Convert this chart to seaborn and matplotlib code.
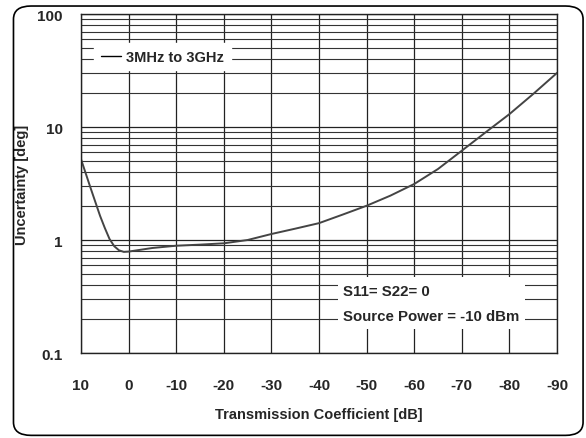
import numpy as np
import pandas as pd
import matplotlib
matplotlib.use("Agg")
import matplotlib.pyplot as plt
import seaborn as sns
from matplotlib.patches import FancyBboxPatch, Rectangle
from matplotlib.ticker import LogLocator, FixedLocator

# ==========================================
# DATA
# ==========================================

transmission_db = [10, 8, 6, 5, 4, 3, 2, 1, 0, -5, -10, -15, -20, -25, -30,
                   -35, -40, -45, -50, -55, -60, -65, -70, -75, -80, -85, -90]
uncertainty_deg = [5.2, 2.9, 1.64, 1.28, 1.02, 0.88, 0.81, 0.785, 0.79, 0.85,
                   0.89, 0.91, 0.935, 1.0, 1.13, 1.26, 1.41, 1.68, 2.01, 2.47,
                   3.13, 4.25, 6.17, 8.97, 13.0, 19.6, 30.1]

x_ticks = [10, 0, -10, -20, -30, -40, -50, -60, -70, -80, -90]
y_ticks = [0.1, 1, 10, 100]
y_tick_labels = ["0.1", "1", "10", "100"]

df = pd.DataFrame({"Transmission": transmission_db, "Uncertainty": uncertainty_deg})

# ==========================================
# STYLE
# ==========================================

sns.set_style("white")
plt.rcParams["font.family"] = ["Liberation Sans", "DejaVu Sans"]
plt.rcParams["font.weight"] = "bold"
plt.rcParams["axes.unicode_minus"] = False

fig = plt.figure(figsize=(5.86, 4.39), dpi=100)
ax = fig.add_axes([0.1382, 0.1936, 0.8123, 0.7722])

sns.lineplot(data=df, x="Transmission", y="Uncertainty", ax=ax,
             color="#444444", linewidth=1.4, label="3MHz to 3GHz")

ax.set_yscale("log")
ax.set_ylim(0.1, 100)
ax.set_xlim(10, -90)

ax.xaxis.set_major_locator(FixedLocator(x_ticks))
ax.set_yticks(y_ticks)
ax.set_yticklabels(y_tick_labels)
ax.yaxis.set_minor_locator(LogLocator(base=10, subs=np.arange(2, 10)))

ax.grid(True, which="major", color="#222222", linewidth=0.9)
ax.grid(True, which="minor", axis="y", color="#333333", linewidth=0.8)
ax.tick_params(axis="both", which="both", length=0, labelsize=11)
ax.tick_params(axis="x", pad=18)
ax.tick_params(axis="y", pad=13)
for lbl in ax.get_xticklabels() + ax.get_yticklabels():
    lbl.set_fontweight("bold")

for s in ax.spines.values():
    s.set_color("#222222")
    s.set_linewidth(1.0)

ax.set_xlabel("Transmission Coefficient [dB]", fontsize=10.5, fontweight="bold", labelpad=11)
ax.set_ylabel("Uncertainty [deg]", fontsize=10.5, fontweight="bold", labelpad=6)

# ==========================================
# ANNOTATIONS
# ==========================================

leg = ax.legend(loc="upper left", bbox_to_anchor=(0.012, 0.935), frameon=True,
                fontsize=10.5, handlelength=1.4, handletextpad=0.35,
                borderpad=0.45, fancybox=False)
leg.get_frame().set_facecolor("white")
leg.get_frame().set_edgecolor("white")
leg.get_frame().set_alpha(1)
for t in leg.get_texts():
    t.set_fontweight("bold")
for h in leg.get_lines():
    h.set_color("black")
    h.set_linewidth(1.0)

ax.add_patch(Rectangle((0.54, 0.071), 0.393, 0.153, transform=ax.transAxes,
                       facecolor="white", edgecolor="none", zorder=3))
ax.text(0.55, 0.183, "S11= S22= 0", transform=ax.transAxes, fontsize=10.8,
        fontweight="bold", va="center", ha="left", zorder=4)
ax.text(0.55, 0.109, "Source Power = -10 dBm", transform=ax.transAxes, fontsize=10.8,
        fontweight="bold", va="center", ha="left", zorder=4)

# rounded outer frame
frame = FancyBboxPatch((0.023, 0.006), 0.972, 0.978, transform=fig.transFigure,
                       boxstyle="round,pad=0,rounding_size=0.03",
                       facecolor="none", edgecolor="black", linewidth=1.2)
fig.patches.append(frame)

plt.savefig("out.png", dpi=100)
